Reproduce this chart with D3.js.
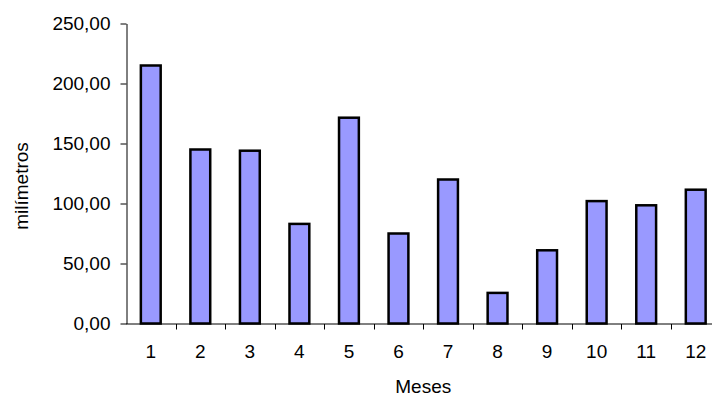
<!DOCTYPE html>
<html>
<head>
<meta charset="utf-8">
<script src="https://cdn.jsdelivr.net/npm/d3@7"></script>
<style>
  html, body { margin: 0; padding: 0; background: #fff; }
  svg { display: block; }
  text { font-family: "Liberation Sans", Arial, sans-serif; fill: #000; }
</style>
</head>
<body>
<svg id="chart" width="712" height="398"></svg>
<script>
// Monthly rainfall (mm)
const months = ["1", "2", "3", "4", "5", "6", "7", "8", "9", "10", "11", "12"];
const rainfall = [215, 145, 144, 83, 171.5, 75, 120, 25.5, 61, 102, 98.5, 111.5];
const yTicks = [0, 50, 100, 150, 200, 250];

const svg = d3.select("#chart");
const plot = { left: 126, right: 720.5, top: 23.5, bottom: 323.5 };

const x = d3.scaleBand()
  .domain(months)
  .range([plot.left, plot.right])
  .paddingInner(0.6)
  .paddingOuter(0.3);

const y = d3.scaleLinear().domain([0, 250]).range([plot.bottom, plot.top]);

const fmt = v => d3.format(".2f")(v).replace(".", ",");

// bars
svg.append("g").selectAll("rect")
  .data(rainfall)
  .join("rect")
  .attr("x", (d, i) => x(months[i]))
  .attr("y", d => y(d))
  .attr("width", x.bandwidth())
  .attr("height", d => y(0) - y(d))
  .attr("fill", "#9999ff")
  .attr("stroke", "#000")
  .attr("stroke-width", 2.5);

// y axis
const yAxis = svg.append("g").attr("transform", `translate(${plot.left + 0.5},0)`)
  .call(d3.axisLeft(y).tickValues(yTicks).tickSize(6).tickSizeOuter(0).tickPadding(10).tickFormat(fmt));
yAxis.select(".domain").attr("stroke", "#000");
yAxis.selectAll(".tick line").attr("stroke", "#000");
yAxis.selectAll(".tick text")
  .style("font-family", "'Liberation Sans', Arial, sans-serif")
  .style("font-size", "19px")
  .attr("fill", "#000");

// x axis: line with ticks between categories
const xg = svg.append("g");
xg.append("line")
  .attr("x1", plot.left).attr("x2", 712)
  .attr("y1", plot.bottom + 0.5).attr("y2", plot.bottom + 0.5)
  .attr("stroke", "#000");
xg.selectAll("line.tk")
  .data(months)
  .join("line")
  .attr("class", "tk")
  .attr("x1", d => Math.round(x(d) + x.bandwidth() / 2 + x.step() / 2) + 0.5)
  .attr("x2", d => Math.round(x(d) + x.bandwidth() / 2 + x.step() / 2) + 0.5)
  .attr("y1", plot.bottom + 0.5)
  .attr("y2", plot.bottom + 6)
  .attr("stroke", "#000");
xg.selectAll("text")
  .data(months)
  .join("text")
  .attr("x", d => x(d) + x.bandwidth() / 2)
  .attr("y", 358)
  .attr("text-anchor", "middle")
  .style("font-size", "19px")
  .text(d => d);

// axis titles
svg.append("text")
  .attr("x", (plot.left + plot.right) / 2)
  .attr("y", 393)
  .attr("text-anchor", "middle")
  .style("font-size", "19px")
  .text("Meses");

svg.append("text")
  .attr("transform", "translate(28,186) rotate(-90)")
  .attr("text-anchor", "middle")
  .style("font-size", "19px")
  .text("milímetros");
</script>
</body>
</html>
